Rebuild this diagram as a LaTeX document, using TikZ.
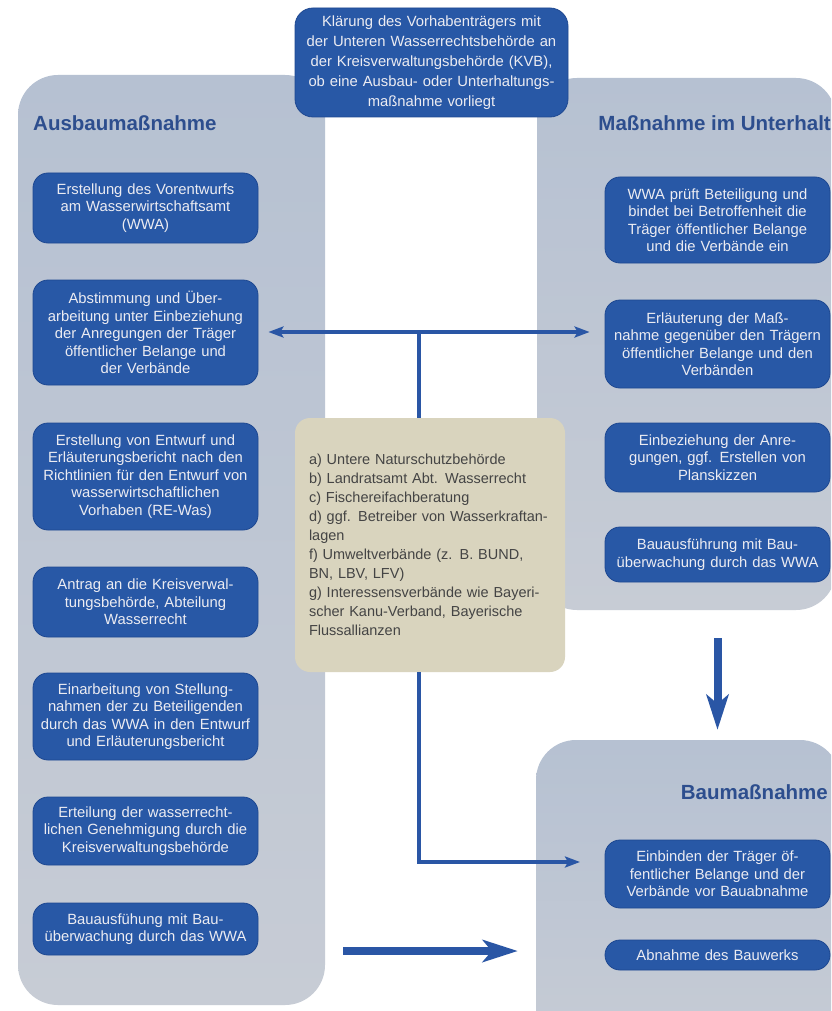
\documentclass[tikz,border=0pt]{standalone}
\usepackage{fontspec}
\setmainfont{Liberation Sans}
\usetikzlibrary{arrows.meta}
\definecolor{boxblue}{RGB}{40,88,166}
\definecolor{boxedge}{RGB}{30,72,145}
\definecolor{arrowblue}{RGB}{42,86,165}
\definecolor{headblue}{RGB}{45,78,142}
\definecolor{paneltop}{RGB}{182,193,210}
\definecolor{panelbot}{RGB}{199,204,213}
\definecolor{beigefill}{RGB}{217,212,190}
\definecolor{beigetext}{RGB}{68,68,68}
\definecolor{boxtext}{RGB}{236,236,242}
\tikzset{thinhead/.tip={Stealth[length=15pt,width=11pt,inset=3pt]}}
\begin{document}
\begin{tikzpicture}[x=1pt,y=-1pt,
  panel/.style={top color=paneltop, bottom color=panelbot, rounded corners=40pt, inner sep=0pt},
  bluebox/.style={fill=boxblue, draw=boxedge, line width=0.8pt, rounded corners=15pt, text=boxtext,
    align=center, text width=215pt, minimum width=225pt, inner xsep=5pt, inner ysep=2pt,
    font=\fontsize{14.8}{17.5}\selectfont},
  topbox/.style={bluebox, text width=263pt, minimum width=273pt, minimum height=109pt, rounded corners=18pt,
    font=\fontsize{14.8}{20}\selectfont},
  beigebox/.style={fill=beigefill, rounded corners=15pt, text=beigetext, align=left, text width=242pt,
    inner xsep=14pt, minimum width=270pt, minimum height=254pt, font=\fontsize{14.5}{19}\selectfont},
  heading/.style={text=headblue, font=\fontsize{20.5}{24}\selectfont\bfseries, inner sep=0pt},
  thinarrow/.style={draw=arrowblue, line width=3.5pt},
  thickarrow/.style={draw=arrowblue, line width=8pt, -{Stealth[length=35pt,width=22pt,inset=9pt]}}
]
\useasboundingbox (0,0) rectangle (831,1011);
\clip (0,0) rectangle (831,1011);
\fill[white] (0,0) rectangle (831,1011);

% panels
\node[panel, minimum width=307pt, minimum height=930pt] (lp) at (171.5,540) {};
\node[panel, minimum width=299pt, minimum height=532pt] (rp) at (686.5,344) {};
\node[panel, minimum width=304pt, minimum height=320pt] (bp) at (688,900) {};

% headings
\node[heading, anchor=west] (hl) at (33,123) {Ausbaumaßnahme};
\node[heading, anchor=east] (hr) at (831,123) {Maßnahme im Unterhalt};
\node[heading, anchor=east] (hb) at (828,792) {Baumaßnahme};

% top box
\node[topbox] (top) at (431.5,62.5) {Klärung des Vorhabenträgers mit\\der Unteren Wasserrechtsbehörde an\\der Kreisverwaltungsbehörde (KVB),\\ob eine Ausbau- oder Unterhaltungs-\\maßnahme vorliegt};

% beige box
\node[beigebox] (beige) at (430,545) {a) Untere Naturschutzbehörde\\b) Landratsamt Abt. Wasserrecht\\c) Fischereifachberatung\\d) ggf. Betreiber von Wasserkraftan-\\lagen\\f) Umweltverbände (z. B. BUND,\\BN, LBV, LFV)\\g) Interessensverbände wie Bayeri-\\scher Kanu-Verband, Bayerische\\Flussallianzen};

% left boxes
\node[bluebox, minimum height=70pt] (l1) at (145.5,208) {Erstellung des Vorentwurfs\\am Wasserwirtschaftsamt\\(WWA)};
\node[bluebox, minimum height=105pt] (l2) at (145.5,332.5) {Abstimmung und Über-\\arbeitung unter Einbeziehung\\der Anregungen der Träger\\öffentlicher Belange und\\der Verbände};
\node[bluebox, minimum height=107pt] (l3) at (145.5,476.5) {Erstellung von Entwurf und\\Erläuterungsbericht nach den\\Richtlinien für den Entwurf von\\wasserwirtschaftlichen\\Vorhaben (RE-Was)};
\node[bluebox, minimum height=70pt] (l4) at (145.5,602) {Antrag an die Kreisverwal-\\tungsbehörde, Abteilung\\Wasserrecht};
\node[bluebox, minimum height=87pt] (l5) at (145.5,716.5) {Einarbeitung von Stellung-\\nahmen der zu Beteiligenden\\durch das WWA in den Entwurf\\und Erläuterungsbericht};
\node[bluebox, minimum height=68pt] (l6) at (145.5,831) {Erteilung der wasserrecht-\\lichen Genehmigung durch die\\Kreisverwaltungsbehörde};
\node[bluebox, minimum height=52pt] (l7) at (145.5,929) {Bauausfühung mit Bau-\\überwachung durch das WWA};

% right boxes
\node[bluebox, minimum height=86pt] (r1) at (717.5,220) {WWA prüft Beteiligung und\\bindet bei Betroffenheit die\\Träger öffentlicher Belange\\und die Verbände ein};
\node[bluebox, minimum height=88pt] (r2) at (717.5,344) {Erläuterung der Maß-\\nahme gegenüber den Trägern\\öffentlicher Belange und den\\Verbänden};
\node[bluebox, minimum height=69pt] (r3) at (717.5,457.5) {Einbeziehung der Anre-\\gungen, ggf. Erstellen von\\Planskizzen};
\node[bluebox, minimum height=55pt] (r4) at (717.5,554.5) {Bauausführung mit Bau-\\überwachung durch das WWA};

% Baumassnahme boxes
\node[bluebox, minimum height=68pt] (b1) at (717.5,874) {Einbinden der Träger öf-\\fentlicher Belange und der\\Verbände vor Bauabnahme};
\node[bluebox, minimum height=30pt] (b2) at (717.5,955) {Abnahme des Bauwerks};

% connectors
\coordinate (j1) at (419,332);
\coordinate (t2) at (580,862);
\coordinate (h0) at (343,951);
\draw[thinarrow, thinhead-thinhead, shorten <=10pt, shorten >=15pt] (l2.east |- j1) -- (r2.west |- j1);
\draw[thinarrow] (j1) -- (beige.north -| j1);
\draw[thinarrow, -thinhead] (beige.south -| j1) |- (t2);
\draw[thickarrow, shorten >=18pt] (h0) -- (bp.west |- h0);
\draw[thickarrow, shorten <=28pt, shorten >=10pt] (rp.south -| r4.south) -- (bp.north -| r4.south);
\end{tikzpicture}
\end{document}
